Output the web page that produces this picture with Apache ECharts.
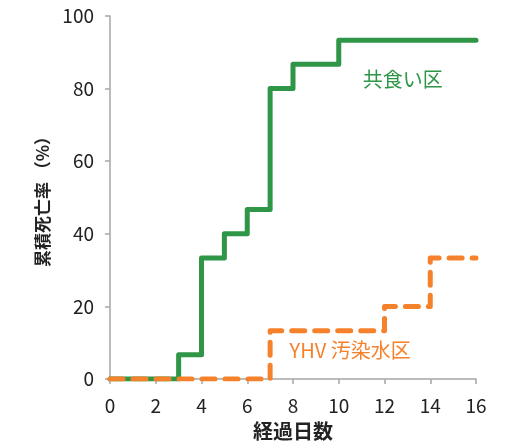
<!DOCTYPE html>
<html><head><meta charset="utf-8">
<script src="https://cdn.jsdelivr.net/npm/echarts@6/dist/echarts.min.js"></script>
<style>html,body{margin:0;padding:0;background:#fff}#c{width:509px;height:446px}</style>
</head><body><div id="c"></div>
<script>
const days = [0, 2, 4, 6, 8, 10, 12, 14, 16];
const yTicks = [0, 20, 40, 60, 80, 100];
const greenX = [0, 3, 4, 5, 6, 7, 8, 10, 16];
const greenY = [0, 6.7, 33.3, 40, 46.7, 80, 86.7, 93.3, 93.3];
const orangeX = [0, 7, 12, 14, 16];
const orangeY = [0, 13.3, 20, 33.3, 33.3];
const greenName = '共食い区';
const orangeName = 'YHV 汚染水区';
const greenLabelAt = [12.8, 82.5];
const orangeLabelAt = [10.5, 8];

const GREEN = '#2f9547', ORANGE = '#f5812b';
const font = '"Noto Sans CJK JP", "Noto Sans", sans-serif';
const numFont = '"Noto Sans CJK JP", sans-serif';
const chart = echarts.init(document.getElementById('c'));
const zip = (xs, ys) => xs.map((x, i) => [x, ys[i]]);
chart.setOption({
  animation: false,
  grid: {left: 110, right: 33, top: 16, bottom: 67},
  xAxis: {
    type: 'value', min: 0, max: 16, interval: 2,
    name: '経過日数', nameLocation: 'middle', nameGap: 42,
    nameTextStyle: {fontSize: 20, fontWeight: 'bold', color: '#222', fontFamily: font},
    axisLine: {lineStyle: {color: '#a6a6a6', width: 1.5}},
    axisTick: {show: true, length: 5, lineStyle: {color: '#a6a6a6', width: 1.5}},
    axisLabel: {fontSize: 19, color: '#222', margin: 17, fontFamily: numFont},
    splitLine: {show: false}
  },
  yAxis: {
    type: 'value', min: 0, max: 100, interval: 20,
    name: '累積死亡率 （%）', nameLocation: 'middle', nameGap: 56,
    nameTextStyle: {fontSize: 17, fontWeight: 'bold', color: '#222', fontFamily: font},
    axisLine: {show: true, lineStyle: {color: '#a6a6a6', width: 1.5}},
    axisTick: {show: true, length: 5, lineStyle: {color: '#a6a6a6', width: 1.5}},
    axisLabel: {fontSize: 19, color: '#222', margin: 16, fontFamily: numFont},
    splitLine: {show: false}
  },
  series: [
    {
      type: 'line', step: 'end', data: zip(greenX, greenY), symbol: 'none',
      lineStyle: {color: GREEN, width: 5, join: 'round', cap: 'round'},
      markPoint: {symbol: 'circle', symbolSize: 0,
        data: [{coord: greenLabelAt, label: {show: true, position: 'inside', formatter: greenName,
          color: GREEN, fontSize: 20, fontFamily: font}}]}
    },
    {
      type: 'line', step: 'end', data: zip(orangeX, orangeY), symbol: 'none',
      lineStyle: {color: ORANGE, width: 5, type: [13, 10], cap: 'round', join: 'round'},
      markPoint: {symbol: 'circle', symbolSize: 0,
        data: [{coord: orangeLabelAt, label: {show: true, position: 'inside', formatter: orangeName,
          color: ORANGE, fontSize: 20, fontFamily: font}}]}
    }
  ]
});
</script></body></html>
